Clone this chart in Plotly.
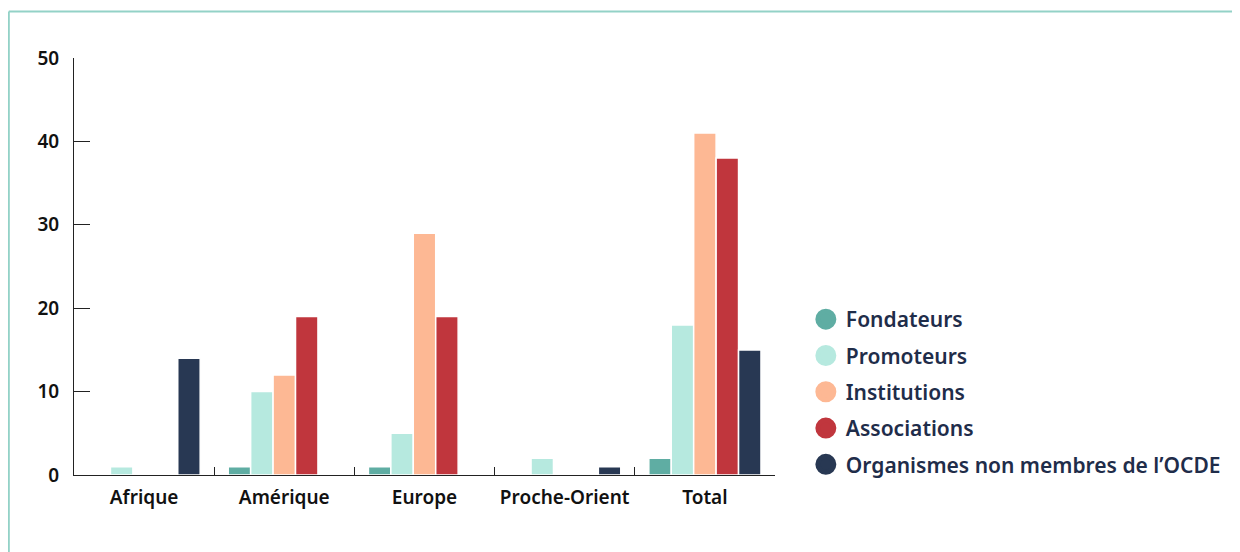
import plotly.graph_objects as go

categories = ["Afrique", "Amérique", "Europe", "Proche-Orient", "Total"]
series_names = ["Fondateurs", "Promoteurs", "Institutions", "Associations",
                "Organismes non membres de l\u2019OCDE"]
fondateurs = [0, 1, 1, 0, 2]
promoteurs = [1, 10, 5, 2, 18]
institutions = [0, 12, 29, 0, 41]
associations = [0, 19, 19, 0, 38]
non_membres = [14, 0, 0, 1, 15]
colors = ["#5fada3", "#b6e9df", "#fdb894", "#c0363d", "#283853"]
y_ticks = [0, 10, 20, 30, 40, 50]

values = [fondateurs, promoteurs, institutions, associations, non_membres]

fig = go.Figure()
for name, vals, col in zip(series_names, values, colors):
    fig.add_trace(go.Bar(
        x=categories, y=vals, name=name, showlegend=False,
        marker=dict(color=col, line=dict(color="white", width=1.5)),
    ))
for i, (name, col) in enumerate(zip(series_names, colors)):
    fig.add_trace(go.Scatter(
        x=[None], y=[None], mode="markers", name=name, legendgroup=f"g{i}",
        marker=dict(color=col, size=20, symbol="circle",
                    line=dict(color=col, width=6)),
    ))

font_family = "'Noto Sans', Lato, sans-serif"
fig.update_layout(
    width=1232, height=544,
    paper_bgcolor="white", plot_bgcolor="white",
    margin=dict(l=66, r=465, t=50, b=77, autoexpand=False),
    barmode="group", bargap=0.2, bargroupgap=0.0,
    font=dict(family=font_family, color="#111111", size=18),
    legend=dict(
        x=1.044, xanchor="left", xref="paper", y=0.199, yanchor="middle",
        font=dict(family=font_family, size=21, color="#1f2d4a", weight=600),
        itemsizing="trace", tracegroupgap=6, bgcolor="rgba(0,0,0,0)",
    ),
    xaxis=dict(
        showline=True, linecolor="#222", linewidth=1,
        ticks="inside", tickson="boundaries", ticklen=8, tickcolor="#222",
        tickfont=dict(size=19, weight=600, color="#111"), tickangle=0,
        showgrid=False, zeroline=False, ticklabelstandoff=5, automargin=False,
    ),
    yaxis=dict(
        range=[0, 50], tickvals=y_ticks, showline=True, linecolor="#222",
        linewidth=1, ticks="inside", ticklen=16, tickcolor="#222",
        tickfont=dict(size=19, weight=600, color="#111"),
        showgrid=False, zeroline=False, ticklabelstandoff=10, automargin=False,
    ),
    shapes=[
        dict(type="line", xref="paper", yref="paper", x0=-0.093, x1=1.8, y0=1.1115, y1=1.1115,
             line=dict(color="#93d2c7", width=2)),
        dict(type="line", xref="paper", yref="paper", x0=-0.093, x1=-0.093, y0=1.1115, y1=-0.3,
             line=dict(color="#93d2c7", width=2)),
    ],
)
fig.write_html("out.html")
